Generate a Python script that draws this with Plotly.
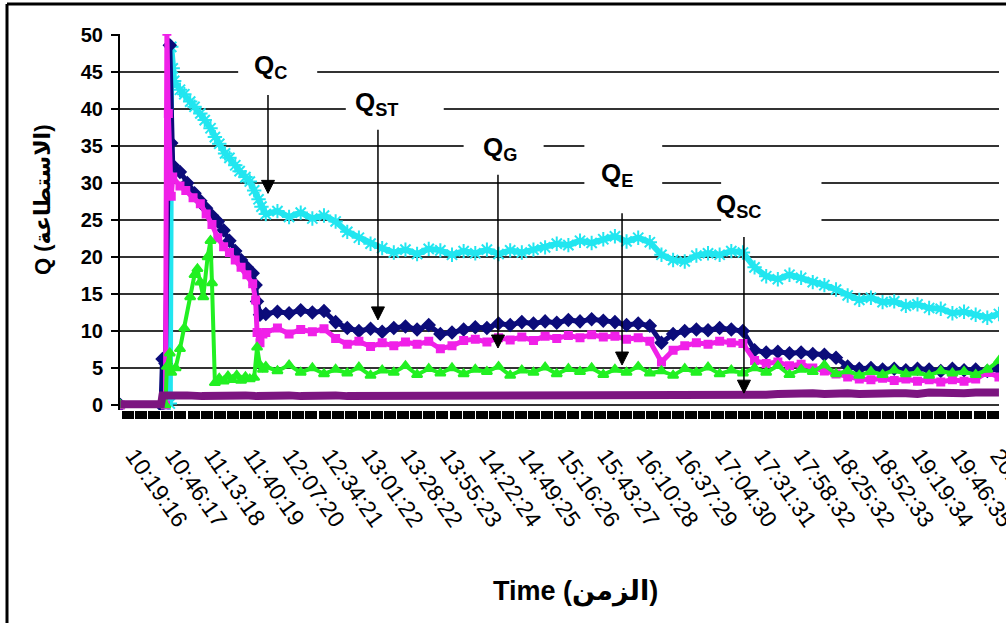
import plotly.graph_objects as go

# ---------------------------------------------------------------- data
# Time-axis labels (one every 27 min 01 s)
TICK_LABELS = ["10:19:16", "10:46:17", "11:13:18", "11:40:19", "12:07:20", "12:34:21",
               "13:01:22", "13:28:22", "13:55:23", "14:22:24", "14:49:25", "15:16:26",
               "15:43:27", "16:10:28", "16:37:29", "17:04:30", "17:31:31", "17:58:32",
               "18:25:32", "18:52:33", "19:19:34", "19:46:35", "20:13:36"]

# Shared sampling times for the steady part of the run
MAIN_TIMES = ["11:54", "12:02", "12:10", "12:18", "12:26", "12:34", "12:42", "12:50",
              "12:58", "13:06", "13:14", "13:22", "13:30", "13:38", "13:46", "13:54",
              "14:02", "14:10", "14:18", "14:26", "14:34", "14:42", "14:50", "14:58",
              "15:06", "15:14", "15:22", "15:30", "15:38", "15:46", "15:54", "16:02",
              "16:10", "16:18", "16:26", "16:34", "16:42", "16:50", "16:58", "17:06",
              "17:14", "17:22", "17:30", "17:38", "17:46", "17:54", "18:02", "18:10",
              "18:18", "18:26", "18:34", "18:42", "18:50", "18:58", "19:06", "19:14",
              "19:22", "19:30", "19:38", "19:46", "19:54", "20:02", "20:10", "20:18"]

# Cyan series
CYAN_START_T = ["10:44", "10:48", "10:49", "10:50", "10:51", "10:55", "10:58", "11:02",
                "11:05", "11:09", "11:12", "11:16", "11:19", "11:22", "11:26", "11:29",
                "11:33", "11:36", "11:40", "11:43", "11:46", "11:49", "11:51"]
CYAN_START_Q = [0, 0.2, 48.4, 45.5, 43.8, 42.6, 42.0, 41.0, 40.3, 39.4, 38.5, 37.4,
                36.2, 35.3, 34.0, 33.4, 32.4, 31.6, 30.8, 30.2, 29.0, 27.8, 26.8]
CYAN_MAIN_Q = [25.8, 26.2, 25.4, 26.0, 25.2, 25.6, 24.8, 23.4, 22.6, 21.8,
               21.2, 20.6, 21.0, 20.4, 21.1, 20.9, 20.3, 20.8, 20.5, 21.0,
               20.4, 20.9, 20.6, 21.0, 21.3, 21.8, 21.6, 22.2, 21.9, 22.4,
               22.8, 22.1, 22.6, 22.0, 20.3, 19.6, 19.4, 20.2, 20.5, 20.3,
               20.8, 20.6, 18.6, 17.4, 17.0, 17.6, 17.2, 16.6, 16.2, 15.6,
               14.8, 14.2, 14.5, 13.9, 14.0, 13.4, 13.6, 13.1, 13.0, 12.4,
               12.6, 12.2, 11.8, 12.3]

# Navy series
NAVY_START_T = ["10:14", "10:42", "10:43", "10:45", "10:48", "10:49", "10:50", "10:55",
                "11:00", "11:05", "11:09", "11:13", "11:17", "11:21", "11:25", "11:29",
                "11:33", "11:37", "11:41", "11:45", "11:47", "11:48", "11:50"]
NAVY_START_Q = [0, 0, 6.2, 5.6, 48.6, 35.4, 32.4, 31.5, 30.0, 28.6, 27.6, 26.6,
                25.6, 24.8, 23.6, 22.2, 20.8, 19.6, 18.6, 17.8, 16.2, 14.0, 12.2]
NAVY_MAIN_Q = [12.3, 12.6, 12.4, 12.8, 12.5, 12.7, 11.2, 10.4, 10.0, 10.3,
               9.9, 10.4, 10.6, 10.2, 10.8, 9.6, 9.8, 10.2, 10.5, 10.4,
               11.0, 10.8, 11.2, 11.0, 11.3, 11.1, 11.5, 11.3, 11.6, 11.4,
               11.2, 10.8, 11.0, 10.7, 8.4, 9.6, 10.0, 10.2, 10.1, 10.4,
               10.2, 10.0, 7.4, 7.1, 7.2, 7.0, 7.1, 6.9, 6.8, 6.4,
               5.2, 4.9, 5.0, 4.8, 4.9, 4.7, 4.9, 4.8, 4.6, 4.9,
               4.7, 4.8, 4.6, 4.9]

# Magenta series
MAGENTA_START_T = ["10:14", "10:45", "10:46", "10:47", "10:49", "10:50", "10:55", "10:59",
                   "11:04", "11:09", "11:13", "11:17", "11:21", "11:25", "11:29", "11:33",
                   "11:37", "11:41", "11:45", "11:47", "11:48", "11:50", "11:52"]
MAGENTA_START_Q = [0, 0, 50.5, 39.4, 28.2, 30.8, 29.6, 29.0, 28.0, 27.2, 25.8, 24.4,
                   22.6, 21.4, 20.6, 19.6, 18.6, 17.6, 16.4, 14.2, 9.8, 8.4, 9.6]
MAGENTA_MAIN_Q = [9.8, 10.4, 9.6, 10.2, 9.9, 10.3, 9.0, 8.2, 8.6, 7.9,
                  8.4, 8.0, 8.5, 8.2, 8.6, 7.6, 8.0, 8.7, 8.9, 8.5,
                  9.1, 8.8, 9.2, 8.7, 9.3, 9.0, 9.4, 9.1, 9.5, 9.2,
                  9.3, 8.9, 9.1, 8.6, 5.8, 7.4, 8.0, 8.4, 8.2, 8.6,
                  8.4, 8.3, 6.0, 5.6, 5.8, 5.3, 5.5, 5.0, 4.6, 4.2,
                  3.8, 3.5, 3.4, 3.6, 3.3, 3.5, 3.2, 3.4, 3.1, 3.4,
                  3.2, 3.5, 4.4, 3.8]

# Green series
GREEN_START_T = ["10:14", "10:45", "10:46", "10:48", "10:49", "10:52", "10:55", "10:58",
                 "11:02", "11:05", "11:07", "11:09", "11:11", "11:14", "11:16", "11:17",
                 "11:19", "11:22", "11:25", "11:28", "11:31", "11:34", "11:37", "11:40",
                 "11:43", "11:46", "11:48", "11:50", "11:52"]
GREEN_START_Q = [0, 0, 5.2, 7.0, 4.4, 5.0, 7.6, 10.4, 14.6, 17.6, 18.4, 16.6, 14.6,
                 20.0, 22.2, 16.5, 3.0, 3.6, 3.2, 3.9, 3.4, 4.0, 3.3, 3.8, 3.5, 3.7,
                 7.8, 5.4, 4.8]
GREEN_MAIN_Q = [5.2, 4.6, 5.4, 4.4, 5.0, 4.2, 4.8, 4.3, 5.1, 4.0,
                4.7, 4.4, 5.3, 4.1, 4.9, 4.3, 5.0, 4.2, 4.8, 4.5,
                5.2, 4.0, 4.7, 4.4, 5.1, 4.2, 4.9, 4.5, 5.0, 4.1,
                4.8, 4.4, 5.2, 4.3, 4.6, 4.0, 4.9, 4.4, 5.1, 4.2,
                4.7, 4.3, 5.0, 4.4, 5.3, 4.1, 4.8, 4.5, 5.4, 4.2,
                4.6, 4.0, 4.5, 4.1, 4.7, 4.2, 4.4, 4.0, 4.6, 4.3,
                4.5, 4.1, 4.8, 6.0]

# Purple series
PURPLE_START_T = ["10:14", "10:22", "10:30", "10:38", "10:42", "10:43", "10:50",
                  "11:00", "11:10", "11:20", "11:30", "11:40", "11:48"]
PURPLE_START_Q = [0.1, 0.15, 0.1, 0.15, 0.1, 1.3, 1.2, 1.3, 1.2, 1.3, 1.2, 1.3, 1.2]
PURPLE_MAIN_Q = [1.3, 1.2, 1.3, 1.2, 1.3, 1.2, 1.3, 1.2, 1.2, 1.3,
                 1.2, 1.3, 1.2, 1.3, 1.2, 1.2, 1.3, 1.2, 1.3, 1.2,
                 1.3, 1.2, 1.3, 1.2, 1.2, 1.3, 1.2, 1.3, 1.2, 1.3,
                 1.2, 1.3, 1.2, 1.2, 1.3, 1.2, 1.3, 1.2, 1.3, 1.2,
                 1.3, 1.2, 1.3, 1.4, 1.5, 1.6, 1.5, 1.6, 1.5, 1.6,
                 1.6, 1.5, 1.6, 1.5, 1.6, 1.6, 1.5, 1.7, 1.6, 1.7,
                 1.6, 1.7, 1.8, 1.7]

# Stage markers: label, arrow time, arrow head value, arrow tail value
STAGES = [("C", "11:55:30", 28.6, 41.9),
          ("ST", "13:11:06", 11.5, 37.2),
          ("G", "14:33:36", 7.7, 31.1),
          ("E", "15:58:54", 5.4, 25.9),
          ("SC", "17:22:42", 1.6, 22.7)]
# label centre (time, value)
STAGE_LABEL_POS = [("11:56:54", 45.8), ("13:09:48", 40.7), ("14:35:00", 34.7),
                   ("15:55:24", 31.1), ("17:19:18", 27.0)]
# white label boxes (time from, time to, value from, value to)
STAGE_BOXES = [("11:35:00", "12:29:20", 44.3, 47.7),
               ("12:49:00", "13:56:20", 38.5, 41.9),
               ("14:10:00", "15:05:00", 33.8, 36.5),
               ("15:33:00", "16:26:30", 28.4, 35.9),
               ("17:07:00", "18:16:00", 24.4, 31.2)]


def to_min(s):
    parts = [int(p) for p in s.split(":")]
    h, m = parts[0], parts[1]
    sec = parts[2] if len(parts) > 2 else 0
    return h * 60 + m + sec / 60.0


# ---------------------------------------------------------------- geometry
W, H = 1006, 623
L, R, T, B = 120, 7, 34, 213
PLOT_W = W - L - R
PLOT_H = H - T - B
T0 = to_min(TICK_LABELS[0])
STEP = to_min(TICK_LABELS[1]) - T0
PX_TICK0 = 128
PX_PER_MIN = 39.3 / STEP
X_RANGE = [T0 - (PX_TICK0 - L) / PX_PER_MIN, T0 + (L + PLOT_W - PX_TICK0) / PX_PER_MIN]
PX_PER_Q = 7.4
Y_RANGE = [-(T + PLOT_H - 405) / PX_PER_Q, 50 + (35 - T) / PX_PER_Q]

# arrowhead size in pixels
HEAD_HALF_W, HEAD_LEN = 6.5, 13

FONT = "Arial, 'Liberation Sans', 'DejaVu Sans', sans-serif"


def paper_x(px):
    return (px - L) / PLOT_W


def paper_y(py):
    return (T + PLOT_H - py) / PLOT_H


fig = go.Figure()

series = [
    (CYAN_START_T, CYAN_START_Q, CYAN_MAIN_Q, "#22e6f0", 6, "asterisk-open", 12),
    (NAVY_START_T, NAVY_START_Q, NAVY_MAIN_Q, "#0c0c7a", 5, "diamond", 9),
    (MAGENTA_START_T, MAGENTA_START_Q, MAGENTA_MAIN_Q, "#f020e8", 5, "square", 7),
    (GREEN_START_T, GREEN_START_Q, GREEN_MAIN_Q, "#22f022", 4, "triangle-up", 9),
]
for st, sq, mq, col, lw, sym, ms in series:
    xs = [to_min(t) for t in st + MAIN_TIMES]
    ys = sq + mq
    fig.add_trace(go.Scatter(
        x=xs, y=ys, mode="lines+markers",
        line=dict(color=col, width=lw),
        marker=dict(symbol=sym, size=ms, color=col, line=dict(color=col, width=2)),
        hoverinfo="skip"))

fig.add_trace(go.Scatter(
    x=[to_min(t) for t in PURPLE_START_T + MAIN_TIMES],
    y=PURPLE_START_Q + PURPLE_MAIN_Q, mode="lines",
    line=dict(color="#7c1580", width=8), hoverinfo="skip"))

shapes = []
for t1, t2, v1, v2 in STAGE_BOXES:
    shapes.append(dict(type="rect", xref="x", yref="y", x0=to_min(t1), x1=to_min(t2),
                       y0=v1, y1=v2, fillcolor="white", line=dict(width=0),
                       layer="between"))

# stage arrows: vertical shaft plus a filled arrowhead
hw = HEAD_HALF_W / PX_PER_MIN
hl = HEAD_LEN / PX_PER_Q
for sub, t, head, tail in STAGES:
    xm = to_min(t)
    shapes.append(dict(type="line", xref="x", yref="y", x0=xm, x1=xm,
                       y0=tail, y1=head + hl * 0.5, line=dict(color="black", width=1.5)))
    shapes.append(dict(type="path", xref="x", yref="y",
                       path="M %f,%f L %f,%f L %f,%f Z" % (xm - hw, head + hl, xm + hw,
                                                           head + hl, xm, head),
                       fillcolor="black", line=dict(color="black", width=1)))

# outer frame (top and left edges)
shapes.append(dict(type="line", xref="paper", yref="paper", x0=paper_x(7), x1=paper_x(W + 5),
                   y0=paper_y(4), y1=paper_y(4), line=dict(color="black", width=3)))
shapes.append(dict(type="line", xref="paper", yref="paper", x0=paper_x(7), x1=paper_x(7),
                   y0=paper_y(4), y1=paper_y(H + 5), line=dict(color="black", width=3)))

annotations = []
for (sub, t, head, tail), (lt, lv) in zip(STAGES, STAGE_LABEL_POS):
    annotations.append(dict(x=to_min(lt), y=lv, xref="x", yref="y",
                            text="<b>Q<sub>%s</sub></b>" % sub, showarrow=False,
                            font=dict(family=FONT, size=26, color="black"),
                            xanchor="center", yanchor="middle"))

annotations.append(dict(x=paper_x(42), y=paper_y(200), xref="paper", yref="paper",
                        text="<b>Q (الاستطاعة)</b>", textangle=-90, showarrow=False,
                        font=dict(family=FONT, size=22, color="black"),
                        xanchor="center", yanchor="middle"))
annotations.append(dict(x=paper_x(575), y=paper_y(591), xref="paper", yref="paper",
                        text="<b>Time (الزمن)</b>", showarrow=False,
                        font=dict(family=FONT, size=27, color="black"),
                        xanchor="center", yanchor="middle"))

fig.update_layout(
    width=W, height=H, margin=dict(l=L, r=R, t=T, b=B, autoexpand=False),
    paper_bgcolor="white", plot_bgcolor="white", showlegend=False,
    font=dict(family=FONT, color="black"),
    shapes=shapes, annotations=annotations,
    xaxis=dict(range=X_RANGE, tickmode="array", automargin=False,
               tickvals=[to_min(s) for s in TICK_LABELS], ticktext=TICK_LABELS,
               tickangle=55, tickfont=dict(family=FONT, size=23, color="black"),
               ticks="outside", ticklen=8, tickwidth=12, tickcolor="black",
               ticklabelstandoff=14, ticklabelshift=6, ticklabeloverflow="allow",
               minor=dict(ticks="outside", ticklen=8, tickwidth=12, tickcolor="black",
                          tick0=T0, dtick=STEP / 3, showgrid=False),
               showgrid=False, zeroline=False, showline=False),
    yaxis=dict(range=Y_RANGE, tickmode="array", tickvals=list(range(0, 51, 5)),
               automargin=False,
               tickfont=dict(family=FONT, size=20, color="black", weight="bold"),
               ticks="outside", ticklen=7, tickwidth=1.5, tickcolor="black",
               ticklabelstandoff=4,
               showgrid=True, gridcolor="#333333", gridwidth=2,
               zeroline=False, showline=True, linecolor="black", linewidth=2),
)

fig.write_html("out.html")
